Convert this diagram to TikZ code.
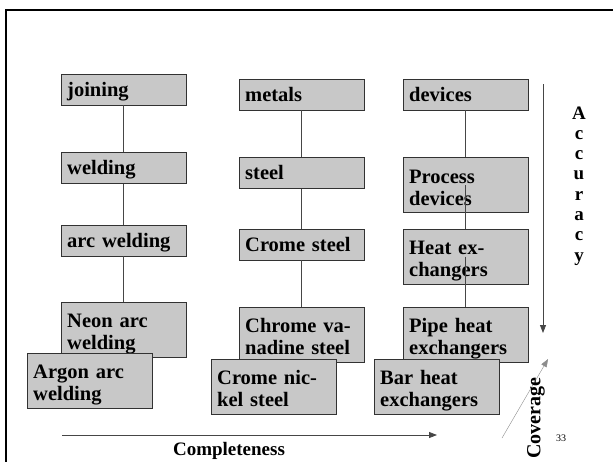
\documentclass[tikz,border=0pt]{standalone}
\usepackage{fontspec}
\setmainfont{Liberation Serif}
\usetikzlibrary{positioning,arrows.meta}
\definecolor{boxgray}{RGB}{200,200,200}
\definecolor{boxline}{RGB}{50,50,50}
\definecolor{linkgray}{RGB}{70,70,70}
\tikzset{
    termbox/.style={
        draw=boxline,fill=boxgray,anchor=north west,minimum width=125pt,minimum height=31pt,
        text width=113pt,inner xsep=6pt,inner ysep=0pt,align=left,
        text height=18pt,text depth=5pt,
        font=\fontsize{20.5}{22}\selectfont\bfseries
    },
    tallbox/.style={
        termbox,minimum height=55pt,text depth=22pt
    },
    link/.style={
        draw=linkgray,line width=.8pt
    },
    axislabel/.style={
        font=\fontsize{19}{22}\selectfont\bfseries
    }
}

\begin{document}
\begin{tikzpicture}[x=1pt,y=-1pt, >={Triangle[length=8pt,width=6pt]}]
\useasboundingbox (0,0) rectangle (613,461);
% frame
\draw[line width=2.5pt] (6,470) -- (6,10) -- (620,10);
% joining column
\node[termbox] (joining) at (61,74) {joining};
\node[termbox,below=47pt of joining] (welding) {welding};
\node[termbox,below=41pt of welding] (arcw) {arc welding};
\node[tallbox,below=46pt of arcw] (neon) {Neon arc\\welding};
\node[tallbox] (argon) at (27,353) {Argon arc\\welding};
% metals column
\node[termbox] (metals) at (239,79) {metals};
\node[termbox,below=47pt of metals] (steel) {steel};
\node[termbox,below=40pt of steel] (crome) {Crome steel};
\node[tallbox,below=47pt of crome] (vanadine) {Chrome va-\\nadine steel};
\node[tallbox] (nickel) at (211,359) {Crome nic-\\kel steel};
% devices column
\node[termbox] (devices) at (403,79) {devices};
\node[tallbox,below=47pt of devices] (process) {Process\\devices};
\node[tallbox,below=16pt of process] (heat) {Heat ex-\\changers};
\node[tallbox,below=23pt of heat] (pipe) {Pipe heat\\exchangers};
\node[tallbox] (bar) at (374,359) {Bar heat\\exchangers};
% links
\draw[link] (joining.south) -- (welding.north);
\draw[link] (welding.south) -- (arcw.north);
\draw[link] (arcw.south) -- (neon.north);
\draw[link] (metals.south) -- (steel.north);
\draw[link] (steel.south) -- (crome.north);
\draw[link] (crome.south) -- (vanadine.north);
\draw[link] (devices.south) -- (process.north);
\draw[link] (process.center) -- (heat.north);
\draw[link] (heat.center) -- (pipe.north);
% axes
\coordinate (acctop) at (543,84);
\coordinate (accbot) at (543,333);
\draw[->,draw=linkgray,line width=.8pt] (acctop) -- (accbot);
\node[font=\fontsize{19}{20.3}\selectfont\bfseries,align=center,anchor=north] (accuracy) at (579,103)
    {A\\c\\c\\u\\r\\a\\c\\y};
\coordinate (comptail) at (62,435);
\coordinate (comphead) at (437,435);
\draw[->,draw=linkgray,line width=.8pt] (comptail) -- (comphead);
\node[axislabel] (completeness) at (229,451) {Completeness};
\coordinate (covtail) at (502,438);
\coordinate (covhead) at (548,359);
\draw[->,draw=black!45,line width=.4pt] (covtail) -- (covhead);
\node[axislabel,font=\fontsize{20}{22}\selectfont\bfseries,rotate=90] (coverage) at (536,418) {Coverage};
\node[font=\fontsize{10}{12}\selectfont] (pagenum) at (561,438) {33};
\end{tikzpicture}
\end{document}
